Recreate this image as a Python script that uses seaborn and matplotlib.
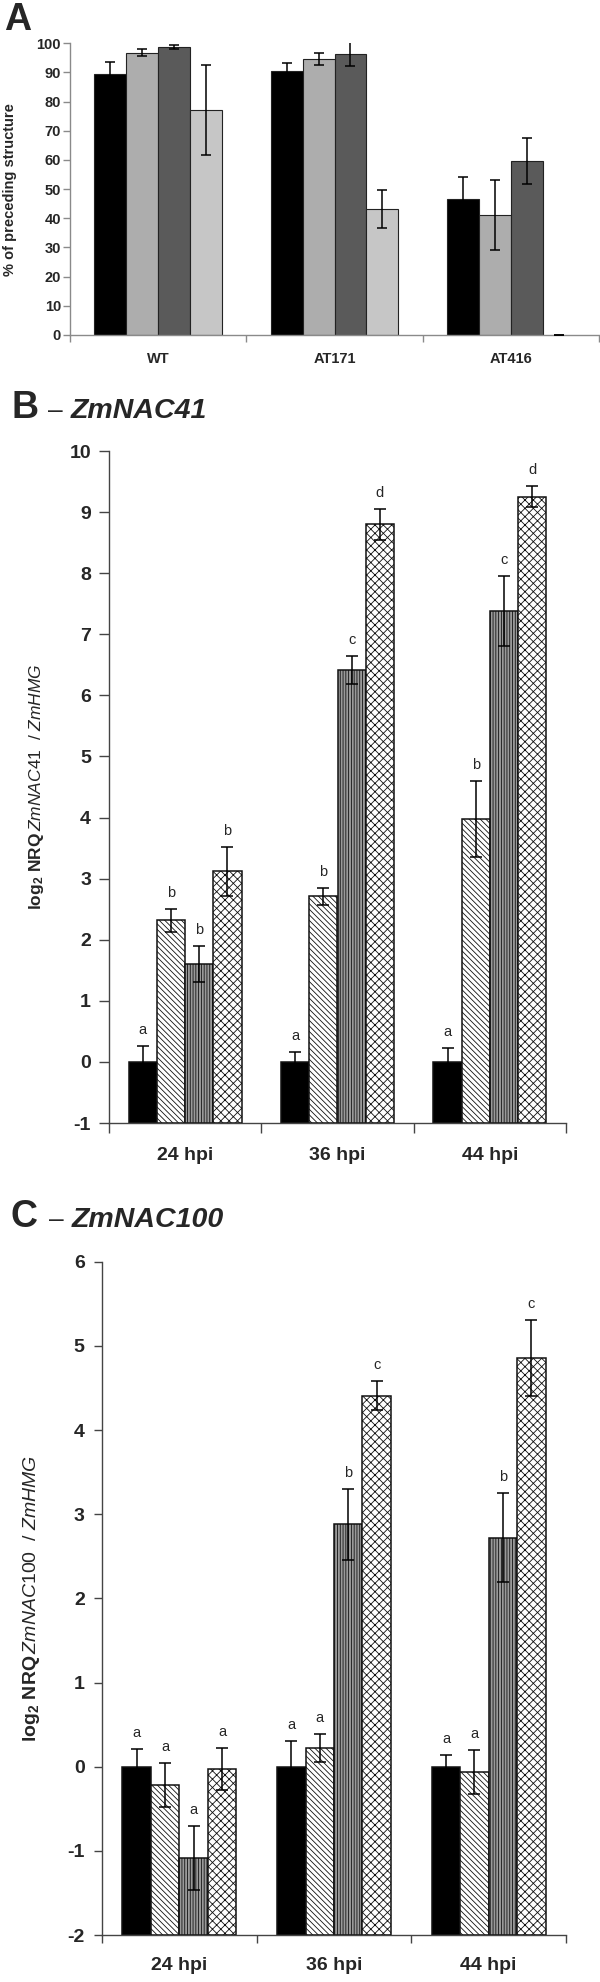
import matplotlib
matplotlib.use('Agg')
import matplotlib.pyplot as plt
from matplotlib.container import BarContainer
import numpy as np
import pandas as pd
import seaborn as sns

sns.set_style('ticks')
plt.rcParams['font.family'] = ['Liberation Sans', 'DejaVu Sans']
plt.rcParams['mathtext.fontset'] = 'custom'
plt.rcParams['mathtext.rm'] = 'Liberation Sans'
plt.rcParams['mathtext.it'] = 'Liberation Sans:italic'
plt.rcParams['mathtext.bf'] = 'Liberation Sans:bold'
plt.rcParams['hatch.linewidth'] = 0.6
plt.rcParams['axes.unicode_minus'] = False

#%% panel A data
lines_a = ['WT', 'AT171', 'AT416']
stages_a = ['stage 1', 'stage 2', 'stage 3', 'stage 4']
pct_1 = [89.4, 90.5, 46.6]
pct_2 = [96.8, 94.6, 41.1]
pct_3 = [98.7, 96.5, 59.7]
pct_4 = [77.1, 43.2, 0.0]
pct_err_1 = [4.1, 2.9, 7.4]
pct_err_2 = [1.1, 2.1, 12.1]
pct_err_3 = [0.6, 4.4, 7.8]
pct_err_4 = [15.3, 6.6, 0.0]

#%% panel B / C data
times = ['24 hpi', '36 hpi', '44 hpi']
treats = ['t1', 't2', 't3', 't4']

nac41_1 = [0.0, 0.0, 0.0]
nac41_2 = [2.32, 2.71, 3.98]
nac41_3 = [1.60, 6.41, 7.38]
nac41_4 = [3.12, 8.80, 9.25]
nac41_err_1 = [0.26, 0.17, 0.22]
nac41_err_2 = [0.19, 0.14, 0.62]
nac41_err_3 = [0.30, 0.23, 0.58]
nac41_err_4 = [0.40, 0.25, 0.17]
nac41_let_1 = ['a', 'a', 'a']
nac41_let_2 = ['b', 'b', 'b']
nac41_let_3 = ['b', 'c', 'c']
nac41_let_4 = ['b', 'd', 'd']

nac100_1 = [0.0, 0.0, 0.0]
nac100_2 = [-0.22, 0.22, -0.06]
nac100_3 = [-1.09, 2.88, 2.72]
nac100_4 = [-0.03, 4.41, 4.86]
nac100_err_1 = [0.21, 0.31, 0.14]
nac100_err_2 = [0.26, 0.17, 0.26]
nac100_err_3 = [0.38, 0.42, 0.53]
nac100_err_4 = [0.25, 0.17, 0.45]
nac100_let_1 = ['a', 'a', 'a']
nac100_let_2 = ['a', 'a', 'a']
nac100_let_3 = ['a', 'b', 'b']
nac100_let_4 = ['a', 'c', 'c']


def bar_groups(ax):
    return [c for c in ax.containers if isinstance(c, BarContainer)]


def draw_bars(ax, cats, hues, vals, errs, colors, hatches, base, width, edge, lw, capsize):
    df = pd.DataFrame({'cat': cats * len(hues),
                       'grp': np.repeat(hues, len(cats)),
                       'value': np.concatenate(vals)})
    df['height'] = df['value'] - base
    sns.barplot(data=df, x='cat', y='height', hue='grp', order=cats, hue_order=hues,
                palette=dict(zip(hues, colors)), saturation=1, width=width,
                errorbar=None, edgecolor=edge, linewidth=lw, bottom=base,
                legend=False, ax=ax)
    for i, cont in enumerate(bar_groups(ax)):
        xs = []
        for bar in cont:
            bar.set_hatch(hatches[i])
            if bar.get_height() == 0:
                bar.set_linewidth(0)
            xs.append(bar.get_x() + bar.get_width() / 2)
        ax.errorbar(xs, vals[i], yerr=errs[i], fmt='none', ecolor='black',
                    elinewidth=1.1, capsize=capsize, capthick=1.1, zorder=5)
    return df


def style_axis(ax, cats, ylim, yticks, color, tsize, xsize, xpad, ypad, ylen):
    ax.set_xlim(-0.5, 2.5)
    ax.set_ylim(ylim)
    sns.despine(ax=ax)
    for s in ['left', 'bottom']:
        ax.spines[s].set_color(color)
        ax.spines[s].set_linewidth(1.0)
    ax.set_yticks(yticks, labels=[str(t) for t in yticks], fontsize=tsize, fontweight='bold')
    ax.set_xticks([0, 1, 2], labels=cats, fontsize=xsize, fontweight='bold')
    ax.set_xticks([-0.5, 0.5, 1.5, 2.5], minor=True)
    ax.tick_params(axis='x', which='major', length=0, pad=xpad)
    ax.tick_params(axis='x', which='minor', length=ylen, width=1.0, color=color, direction='out')
    ax.tick_params(axis='y', length=ylen, width=1.0, color=color, direction='out', pad=ypad)
    ax.set_xlabel('')


def add_letters(ax, vals, errs, letters):
    for i, cont in enumerate(bar_groups(ax)):
        for j, bar in enumerate(cont):
            x = bar.get_x() + bar.get_width() / 2
            ax.annotate(letters[i][j], (x, vals[i][j] + errs[i][j]), xytext=(0, 11.5),
                        textcoords='offset points', ha='center', va='center', fontsize=10.5)


fig = plt.figure(figsize=(6, 19.82), dpi=100)
H = 1982.0

#%% panel A
axA = fig.add_axes([70 / 600, 1 - 335 / H, 529 / 600, (335 - 43.3) / H])
draw_bars(axA, lines_a, stages_a, [pct_1, pct_2, pct_3, pct_4],
          [pct_err_1, pct_err_2, pct_err_3, pct_err_4],
          ['#000000', '#adadad', '#5a5a5a', '#c6c6c6'], ['', '', '', ''],
          0, 0.725, '#222222', 0.8, 3.5)
style_axis(axA, lines_a, (0, 100), list(range(0, 101, 10)), '#8a8a8a', 10.5, 10.5, 12.5, 1.5, 5)
axA.set_ylabel('% of preceding structure', fontsize=10.5, fontweight='bold')
axA.yaxis.set_label_coords(-0.1, 0.5)

#%% panel B
axB = fig.add_axes([109 / 600, 1 - 1123 / H, 457 / 600, (1123 - 451) / H])
vB = [nac41_1, nac41_2, nac41_3, nac41_4]
eB = [nac41_err_1, nac41_err_2, nac41_err_3, nac41_err_4]
draw_bars(axB, times, treats, vB, eB,
          ['#000000', '#ffffff', '#9a9a9a', '#ffffff'],
          ['', '\\' * 6, '|' * 6, 'xxxx'], -1, 0.74, '#111111', 1.1, 4.5)
style_axis(axB, times, (-1, 10), list(range(-1, 11)), '#444444', 14, 14, 17, 6, 7)
add_letters(axB, vB, eB, [nac41_let_1, nac41_let_2, nac41_let_3, nac41_let_4])
axB.set_ylabel(r'$\mathbf{log_{2}\ NRQ}\,\mathit{ZmNAC41\ \ /\ ZmHMG}$', fontsize=12.5)
axB.yaxis.set_label_coords(-0.138, 0.5)

#%% panel C
axC = fig.add_axes([102 / 600, 1 - 1935 / H, 464 / 600, (1935 - 1261.7) / H])
vC = [nac100_1, nac100_2, nac100_3, nac100_4]
eC = [nac100_err_1, nac100_err_2, nac100_err_3, nac100_err_4]
draw_bars(axC, times, treats, vC, eC,
          ['#000000', '#ffffff', '#9a9a9a', '#ffffff'],
          ['', '\\' * 6, '|' * 6, 'xxxx'], -2, 0.735, '#111111', 1.1, 4.5)
style_axis(axC, times, (-2, 6), list(range(-2, 7)), '#444444', 14, 14, 15.5, 6.5, 6)
add_letters(axC, vC, eC, [nac100_let_1, nac100_let_2, nac100_let_3, nac100_let_4])
axC.set_ylabel(r'$\mathbf{log_{2}\ NRQ}\,\mathit{ZmNAC100\ \ /\ ZmHMG}$', fontsize=14)
axC.yaxis.set_label_coords(-0.129, 0.5)

#%% panel titles
fig.text(4 / 600, 1 - 30 / H, 'A', fontsize=27, fontweight='bold', va='baseline')
fig.text(12 / 600, 1 - 418 / H, 'B', fontsize=27, fontweight='bold', va='baseline')
fig.text(48 / 600, 1 - 418 / H, '–', fontsize=19, va='baseline')
fig.text(71 / 600, 1 - 418 / H, 'ZmNAC41', fontsize=20.5, fontweight='bold', style='italic', va='baseline')
fig.text(11 / 600, 1 - 1227 / H, 'C', fontsize=27, fontweight='bold', va='baseline')
fig.text(49 / 600, 1 - 1227 / H, '–', fontsize=19, va='baseline')
fig.text(72 / 600, 1 - 1227 / H, 'ZmNAC100', fontsize=20.5, fontweight='bold', style='italic', va='baseline')

fig.savefig('out.png', dpi=100, facecolor='white')
